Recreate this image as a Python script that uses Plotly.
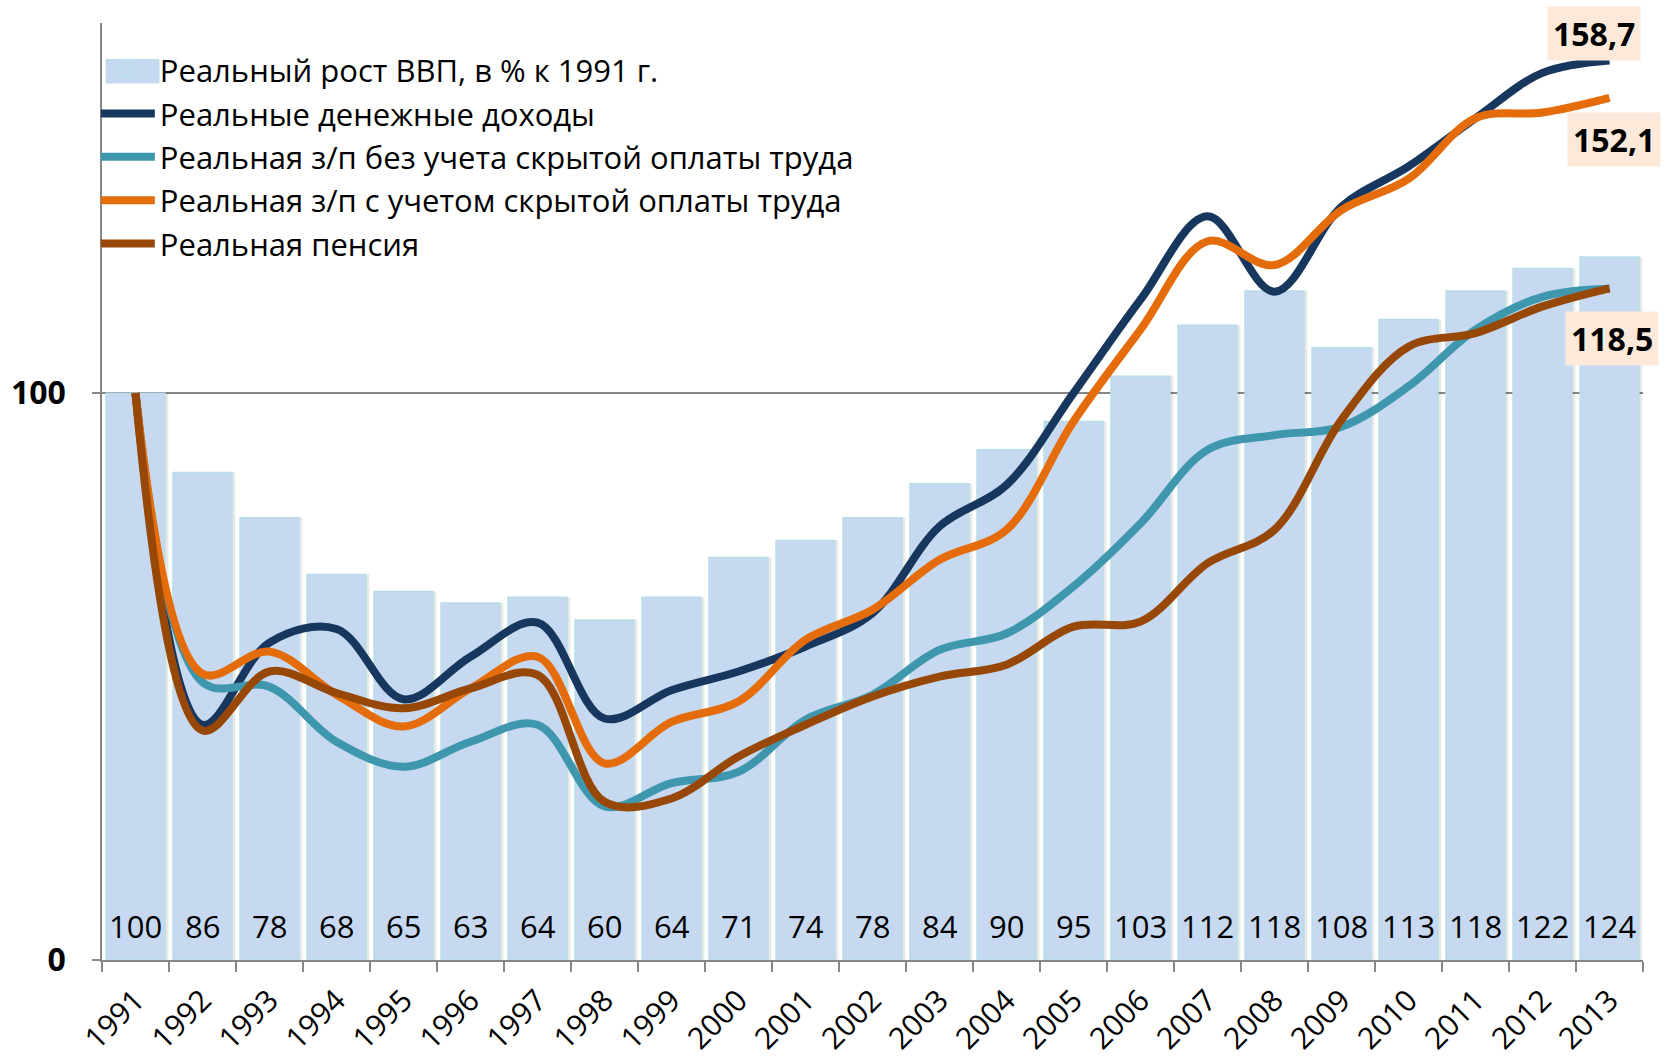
import plotly.graph_objects as go

years = [str(y) for y in range(1991, 2014)]
gdp = [100, 86, 78, 68, 65, 63, 64, 60, 64, 71, 74, 78, 84, 90, 95, 103, 112, 118, 108, 113, 118, 122, 124]
income = [100, 41.5, 56, 58.4, 46, 53.5, 59.5, 42.6, 47.6, 50.9, 55.3, 61.2, 76.5, 83.8, 100, 116.5, 131.2, 117.9, 132.9, 140, 148.5, 156.5, 158.7]
wage_official = [100, 49, 48.2, 38.5, 34.1, 38.5, 41.5, 27.1, 31.2, 33.2, 42.4, 46.8, 54.7, 57.6, 65.9, 77, 90, 92.6, 94.1, 101.2, 111.2, 117, 118.4]
wage_total = [100, 50.5, 54.4, 46.8, 41.2, 47.9, 53.5, 34.7, 42, 45.6, 56.5, 61.8, 70.6, 75.9, 95, 111.2, 126.8, 122.6, 132.3, 137.8, 148.5, 149.5, 152.1]
pension = [100, 40.5, 50.9, 47.1, 44.4, 47.9, 50.3, 27.9, 28.5, 35.9, 41.5, 46.5, 50, 52.1, 58.8, 59.7, 70, 75.9, 95.3, 108.2, 110.6, 115.3, 118.5]

names = {
    "gdp": "Реальный рост ВВП, в % к 1991 г.",
    "income": "Реальные денежные доходы",
    "wage_official": "Реальная з/п без учета скрытой оплаты труда",
    "wage_total": "Реальная з/п с учетом скрытой оплаты труда",
    "pension": "Реальная пенсия",
}

FONT = "'Open Sans', Lato, sans-serif"
AXIS = "#868686"
BAR = "#C6D9F1"
BAR_EDGE = "#B7DEE8"

fig = go.Figure()

# soft bar shadow
fig.add_trace(go.Bar(
    x=years, y=gdp, width=0.88, offset=-0.44 + 0.05,
    marker=dict(color="rgba(0,0,0,0.09)", line_width=0),
    showlegend=False, hoverinfo="skip",
))
fig.add_trace(go.Bar(
    x=years, y=gdp, width=0.88, name=names["gdp"],
    marker=dict(color=BAR, line=dict(color=BAR_EDGE, width=1.5)),
))

for key, vals, col in [
    ("income", income, "#17375E"),
    ("wage_official", wage_official, "#3F97AE"),
    ("wage_total", wage_total, "#E46C0A"),
    ("pension", pension, "#974807"),
]:
    fig.add_trace(go.Scatter(
        x=years, y=vals, name=names[key], mode="lines",
        line=dict(color=col, width=8, shape="spline", smoothing=1),
    ))

# bar value labels near the base (category axis -> serial index)
for i, v in enumerate(gdp):
    fig.add_annotation(
        x=i, y=0, text=str(v), showarrow=False, yanchor="middle", yshift=34,
        font=dict(size=31, color="black", family=FONT),
    )

# end-of-series value boxes
last = len(years) - 1
for vals, dy, dx in [(income, 27, -16), (wage_total, -42, 4), (pension, -50, 2)]:
    fig.add_annotation(
        x=last, y=vals[-1], text=f"{vals[-1]:.1f}".replace(".", ","),
        showarrow=False, xshift=dx, yshift=dy, bgcolor="#FDE9D9", borderpad=5,
        font=dict(size=32, color="black", family=FONT, weight="bold"),
    )

# wide legend swatch for the bar series (Excel-style), sits under the legend square
fig.add_shape(
    type="rect", xref="paper", yref="paper",
    x0=0.0026, x1=0.037, y0=0.936, y1=0.961,
    fillcolor=BAR, line=dict(color=BAR_EDGE, width=1), layer="above",
)

fig.update_xaxes(
    type="category", tickson="boundaries", ticks="outside", ticklen=10,
    tickcolor=AXIS, tickwidth=1.5, showline=True, linecolor=AXIS, linewidth=1.5,
    tickangle=-45, tickfont=dict(size=30, family=FONT, color="black"),
    ticklabelstandoff=9, automargin=False,
    showgrid=False, range=[-0.5, 22.5],
)
fig.update_yaxes(
    range=[0, 165.3], tickvals=[0, 100], ticks="outside", ticklen=8,
    tickcolor=AXIS, tickwidth=1.5, showline=True, linecolor=AXIS, linewidth=1.5,
    showgrid=True, gridcolor=AXIS, gridwidth=1.5, zeroline=False,
    tickfont=dict(size=32, family=FONT, color="black", weight="bold"),
    ticklabelstandoff=20, automargin=False,
)
fig.update_layout(
    width=1666, height=1063,
    margin=dict(l=102, r=23, t=23, b=103, autoexpand=False),
    plot_bgcolor="white", paper_bgcolor="white", barmode="overlay",
    legend=dict(
        x=-0.004, y=0.978, xanchor="left", yanchor="top", bgcolor="rgba(0,0,0,0)",
        font=dict(size=31, family=FONT, color="black"), itemwidth=54,
        tracegroupgap=0,
    ),
)

fig.write_html("out.html", config={"displayModeBar": False},
               post_script="document.body.style.margin='0';")
